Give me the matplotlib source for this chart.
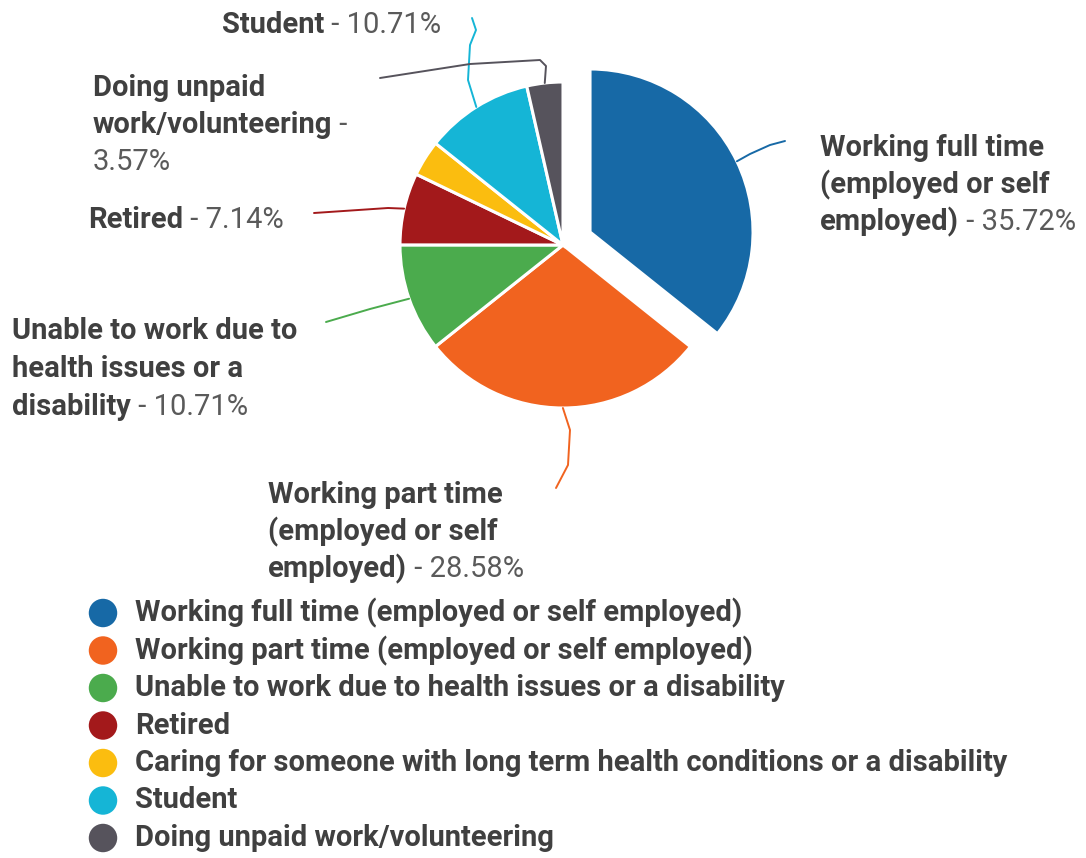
import numpy as np
import matplotlib
matplotlib.use("Agg")
import matplotlib.pyplot as plt

plt.rcParams['font.family'] = ['Roboto', 'DejaVu Sans']

# data
categories = ["Working full time (employed or self employed)",
              "Working part time (employed or self employed)",
              "Unable to work due to health issues or a disability",
              "Retired",
              "Caring for someone with long term health conditions or a disability",
              "Student",
              "Doing unpaid work/volunteering"]
values = [35.72, 28.58, 10.71, 7.14, 3.57, 10.71, 3.57]
colors = ["#1769a6", "#f1631f", "#4bab4d", "#a3191b", "#fbbd0f", "#15b5d6", "#56535c"]

# slice labels as drawn on the chart (bold lines, last bold part, percent)
slice_labels = [
    (["Working full time", "(employed or self"], "employed)", " - 35.72%"),
    (["Working part time", "(employed or self"], "employed)", " - 28.58%"),
    (["Unable to work due to", "health issues or a"], "disability", " - 10.71%"),
    ([], "Retired", " - 7.14%"),
    None,
    (["Doing unpaid"], "work/volunteering", " -\n3.57%"),
    ([], "Student", " - 10.71%"),
]

W, H = 1086, 858
fig = plt.figure(figsize=(W / 100, H / 100), dpi=100)
ax = fig.add_axes([0, 0, 1, 1])


def P(x, y):
    return x, H - y


cx, cy = 563, 245
R = 163
explode = [30, 0, 0, 0, 0, 0, 0]
wedges, _ = ax.pie(values, colors=colors, startangle=90, counterclock=False,
                   center=P(cx, cy), radius=R, explode=explode,
                   wedgeprops=dict(edgecolor="white", linewidth=2.2))
ax.set_xlim(0, W)
ax.set_ylim(0, H)
ax.set_aspect("equal")
ax.axis("off")

# label layout: (x left, y of first line, line step), leader path end points
label_pos = [
    (820, 148, 37),
    (268, 495, 37),
    (12, 331, 38),
    (88, 220, 38),
    None,
    (93, 88, 37),
    (222, 25, 37),
]
leader_paths = [
    [(750, 154), (770, 145), (785, 141)],
    [(570, 430), (568, 465), (556, 488)],
    [(370, 309), (326, 322)],
    [(388, 208), (314, 213)],
    None,
    [(468, 80), (470, 45), (476, 30), (472, 18)],
    [(546, 66), (540, 60), (470, 64), (380, 78)],
]

cum = np.cumsum([0] + values)
bold_c = "#404040"
reg_c = "#5a5a5a"
fs = 21
for i, lab in enumerate(slice_labels):
    if lab is None:
        continue
    # wedge anchor at mid angle
    mid = (cum[i] + cum[i + 1]) / 2 / 100 * 360
    ang = np.deg2rad(mid)
    ox = explode[i] * np.sin(ang)
    oy = explode[i] * np.cos(ang)
    sx = cx + ox + R * np.sin(ang)
    sy = cy - oy - R * np.cos(ang)
    pts = [(sx, sy)] + leader_paths[i]
    ax.plot([P(*p)[0] for p in pts], [P(*p)[1] for p in pts],
            color=colors[i], lw=1.4, solid_capstyle="round",
            solid_joinstyle="round")

    x0, y0, step = label_pos[i]
    lines, last_bold, rest = lab
    for k, ln in enumerate(lines):
        ax.text(*P(x0, y0 + k * step), ln, fontsize=fs, fontweight="bold",
                color=bold_c, va="center", ha="left")
    yl = y0 + len(lines) * step
    t = ax.text(*P(x0, yl), last_bold, fontsize=fs, fontweight="bold",
                color=bold_c, va="center", ha="left")
    if "\n" in rest:
        first, second = rest.split("\n")
        ax.annotate(first, xy=(1, 0.5), xycoords=t, va="center", ha="left",
                    fontsize=fs, color=reg_c)
        ax.text(*P(x0, yl + step), second, fontsize=fs, color=reg_c,
                va="center", ha="left")
    else:
        ax.annotate(rest, xy=(1, 0.5), xycoords=t, va="center", ha="left",
                    fontsize=fs, color=reg_c)

# legend
leg_x, leg_y, leg_step = 103, 613, 37.5
for i, name in enumerate(categories):
    yy = leg_y + i * leg_step
    ax.scatter(*P(leg_x, yy), s=420, color=colors[i], edgecolor="none")
    ax.text(*P(135, yy), name, fontsize=fs, fontweight="bold", color=bold_c,
            va="center", ha="left")

fig.savefig("out.png", dpi=100)
